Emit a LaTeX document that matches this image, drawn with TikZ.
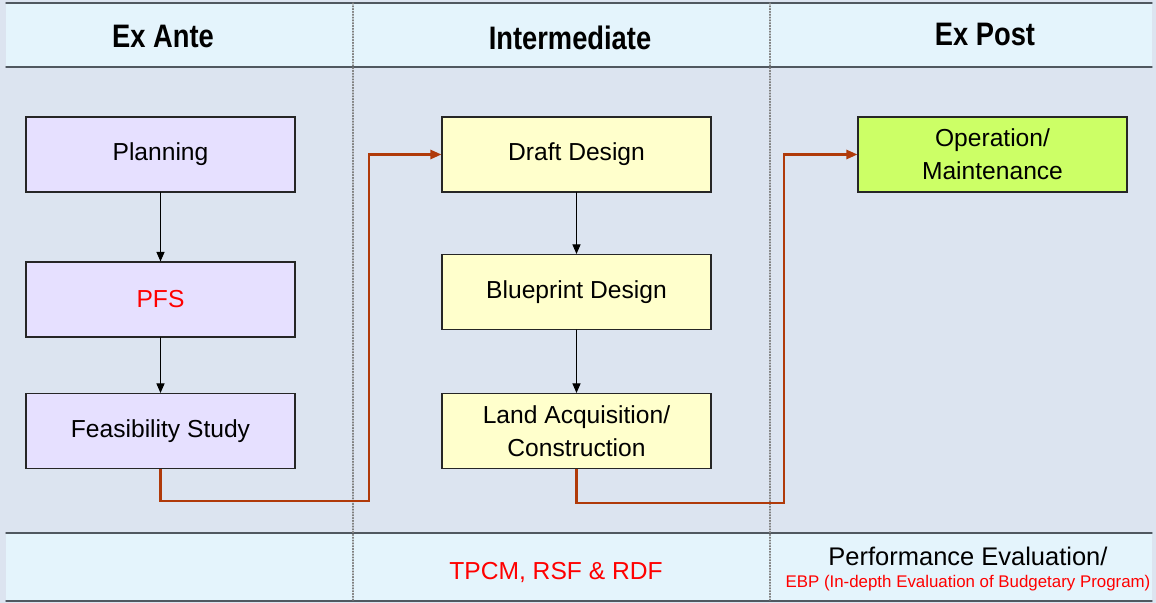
\documentclass[tikz,border=0pt]{standalone}
\usepackage{fontspec}
\setmainfont{Liberation Sans}
\newfontfamily\headfont[FakeStretch=0.84]{Liberation Sans}
\usetikzlibrary{arrows.meta}

\definecolor{paneblue}{HTML}{DCE4F0}
\definecolor{bandblue}{HTML}{E4F4FC}
\definecolor{lavender}{HTML}{E6E0FF}
\definecolor{paleyellow}{HTML}{FFFFCC}
\definecolor{limegreen}{HTML}{CCFF66}
\definecolor{rust}{HTML}{B03A0A}
\definecolor{linegray}{HTML}{505860}

\begin{document}
\begin{tikzpicture}[x=0.2mm, y=-0.2mm, line cap=round,
  every node/.style={font=\fontsize{14}{19}\selectfont},
  stage/.style={draw=black!85, line width=0.6pt, minimum width=5.38cm, minimum height=1.5cm, align=center},
  phase/.style={font=\headfont\fontsize{18.5}{22}\selectfont\bfseries},
  flow/.style={line width=0.6pt, -{Triangle[length=1.9mm,width=1.6mm]}},
  jump/.style={draw=rust, line width=1.4pt, line cap=butt, -{Triangle[length=2.2mm,width=1.8mm]}}]
  \useasboundingbox (0,0) rectangle (1156,603);
  % panels
  \fill[paneblue] (0,0) rectangle (1156,603);
  \fill[bandblue] (6,3) rectangle (1152,67);
  \fill[bandblue] (6,533) rectangle (1152,601);
  \foreach \y in {3,67,533,601}
    \draw[linegray, line width=0.8pt] (6,\y) -- (1152,\y);
  \foreach \x in {353,770}
    \draw[gray, densely dotted, line width=0.6pt] (\x,3) -- (\x,601);

  % headers
  \node[phase] (exante) at (163,36) {Ex Ante};
  \node[phase] (inter) at (570,38) {Intermediate};
  \node[phase] (expost) at (985,34) {Ex Post};

  % stages
  \node[stage, fill=lavender] (plan) at (160.5,154.5) {Planning};
  \node[stage, fill=lavender, text=red] (pfs) at (160.5,299.5) {PFS};
  \node[stage, fill=lavender] (feas) at (160.5,431) {Feasibility Study};
  \node[stage, fill=paleyellow] (draft) at (576.5,154.5) {Draft Design};
  \node[stage, fill=paleyellow] (blue) at (576.5,292) {Blueprint Design};
  \node[stage, fill=paleyellow] (land) at (576.5,431) {Land Acquisition/\\Construction};
  \node[stage, fill=limegreen] (oper) at (992.5,154.5) {Operation/\\Maintenance};

  \draw[flow] (plan) -- (pfs);
  \draw[flow] (pfs) -- (feas);
  \draw[flow] (draft) -- (blue);
  \draw[flow] (blue) -- (land);

  \coordinate (turn1) at (369,501);
  \coordinate (turn2) at (784,503);
  \draw[jump] (feas.south) |- (turn1) |- (draft.west);
  \draw[jump] (land.south) |- (turn2) |- (oper.west);

  % evaluation row
  \node[text=red] (tpcm) at (556,572) {TPCM, RSF \& RDF};
  \node[font=\fontsize{14.5}{17}\selectfont] (perf) at (968,556) {Performance Evaluation/};
  \node[text=red, font=\fontsize{9.6}{11}\selectfont] (ebp) at (968,583) {EBP (In-depth Evaluation of Budgetary Program)};
\end{tikzpicture}
\end{document}
